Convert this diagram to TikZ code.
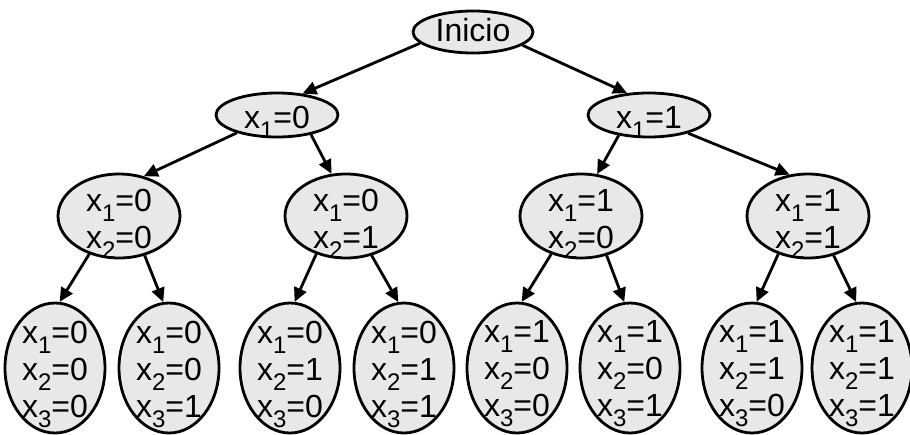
\documentclass[tikz,border=0pt]{standalone}
\usepackage{fontspec}
\setmainfont{Liberation Sans}
\usetikzlibrary{arrows.meta,shapes.geometric}
\newcommand\xsb[1]{\raisebox{-10pt}{\fontsize{24}{24}\selectfont #1}}
\definecolor{nodefill}{RGB}{232,232,232}
\begin{document}
\begin{tikzpicture}[x=1pt,y=-1pt,
  ell/.style={draw=black, line width=2.8pt, fill=nodefill, ellipse, inner sep=0pt},
  rootn/.style={ell, minimum width=120pt, minimum height=42pt},
  lvla/.style={ell, minimum width=122pt, minimum height=44pt},
  lvlb/.style={ell, minimum width=122pt, minimum height=84pt},
  leaf/.style={ell, minimum width=100pt, minimum height=130pt},
  txt/.style={align=center, font=\fontsize{32}{37}\selectfont, inner sep=0pt},
  edge/.style={line width=2.8pt, -{Triangle[length=14pt,width=13pt]}}
]
\useasboundingbox (0,0) rectangle (910,434);
% nodes
\node[rootn] (R) at (473,32) {};
\node[lvla] (A) at (277,115) {};
\node[lvla] (B) at (649,115) {};
\node[lvlb] (C1) at (119,216) {};
\node[lvlb] (C2) at (346,216) {};
\node[lvlb] (C3) at (581,216) {};
\node[lvlb] (C4) at (808,216) {};
\node[leaf] (L1) at (55,368) {};
\node[leaf] (L2) at (169,368) {};
\node[leaf] (L3) at (290,368) {};
\node[leaf] (L4) at (404,368) {};
\node[leaf] (L5) at (517,368) {};
\node[leaf] (L6) at (630,368) {};
\node[leaf] (L7) at (752,368) {};
\node[leaf] (L8) at (862,368) {};
% texts
\node[txt, yshift=2pt] (TR) at (R) {Inicio};
\node[txt, yshift=-7pt] (TA) at (A) {x\xsb{1}=0};
\node[txt, yshift=-7pt] (TB) at (B) {x\xsb{1}=1};
\node[txt, yshift=-8pt] (TC1) at (C1) {x\xsb{1}=0\\x\xsb{2}=0};
\node[txt, yshift=-8pt] (TC2) at (C2) {x\xsb{1}=0\\x\xsb{2}=1};
\node[txt, yshift=-8pt] (TC3) at (C3) {x\xsb{1}=1\\x\xsb{2}=0};
\node[txt, yshift=-8pt] (TC4) at (C4) {x\xsb{1}=1\\x\xsb{2}=1};
\node[txt, yshift=-6pt] (TL1) at (L1) {x\xsb{1}=0\\x\xsb{2}=0\\x\xsb{3}=0};
\node[txt, yshift=-6pt] (TL2) at (L2) {x\xsb{1}=0\\x\xsb{2}=0\\x\xsb{3}=1};
\node[txt, yshift=-6pt] (TL3) at (L3) {x\xsb{1}=0\\x\xsb{2}=1\\x\xsb{3}=0};
\node[txt, yshift=-6pt] (TL4) at (L4) {x\xsb{1}=0\\x\xsb{2}=1\\x\xsb{3}=1};
\node[txt, yshift=-6pt] (TL5) at (L5) {x\xsb{1}=1\\x\xsb{2}=0\\x\xsb{3}=0};
\node[txt, yshift=-6pt] (TL6) at (L6) {x\xsb{1}=1\\x\xsb{2}=0\\x\xsb{3}=1};
\node[txt, yshift=-6pt] (TL7) at (L7) {x\xsb{1}=1\\x\xsb{2}=1\\x\xsb{3}=0};
\node[txt, yshift=-6pt] (TL8) at (L8) {x\xsb{1}=1\\x\xsb{2}=1\\x\xsb{3}=1};
% edges
\draw[edge] (R.192) -- (A.40);
\draw[edge] (R.345) -- (B.135);
\draw[edge] (A.204) -- (C1.58);
\draw[edge] (A.330) -- (C2.109);
\draw[edge] (B.214) -- (C3.69);
\draw[edge] (B.335) -- (C4.114);
\draw[edge] (C1.232) -- (L1.86);
\draw[edge] (C1.303) -- (L2.95);
\draw[edge] (C2.232) -- (L3.86);
\draw[edge] (C2.303) -- (L4.95);
\draw[edge] (C3.232) -- (L5.86);
\draw[edge] (C3.303) -- (L6.95);
\draw[edge] (C4.232) -- (L7.86);
\draw[edge] (C4.303) -- (L8.95);
\end{tikzpicture}
\end{document}
